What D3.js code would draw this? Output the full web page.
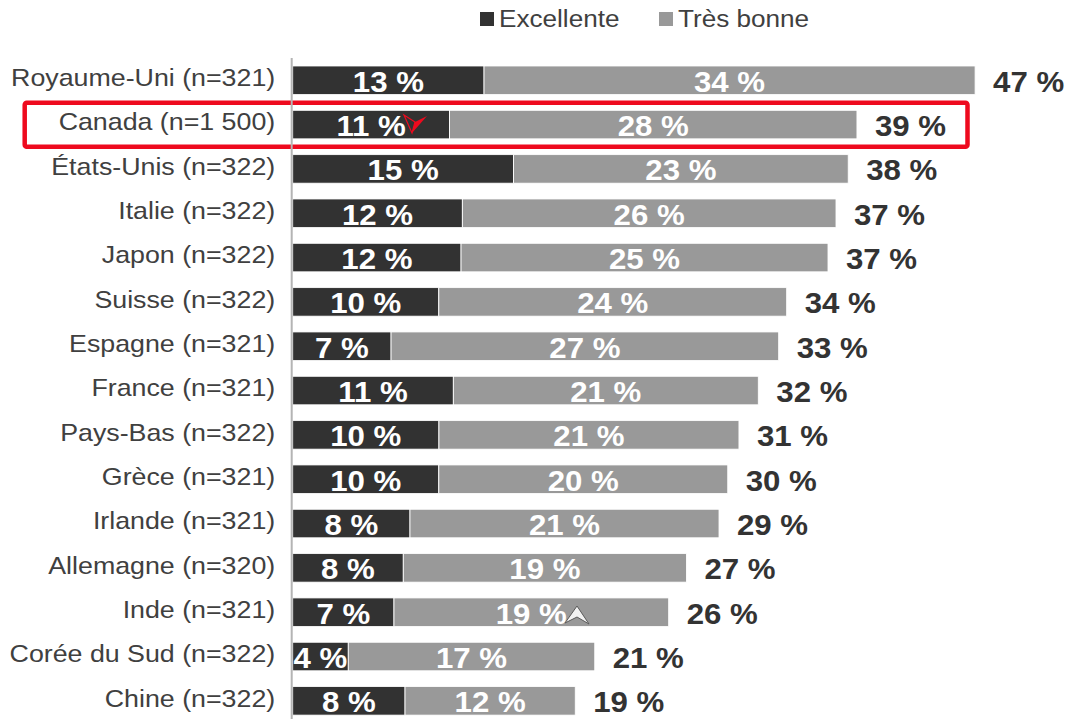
<!DOCTYPE html>
<html>
<head>
<meta charset="utf-8">
<script src="https://cdn.jsdelivr.net/npm/d3@7"></script>
<style>
  body { margin: 0; background: white; }
  text { font-family: "Liberation Sans", Arial, sans-serif; }
</style>
</head>
<body>
<div id="chart"></div>
<script>
// data (bar lengths give the decimals, labels are rounded)
var categories = ["Royaume-Uni (n=321)", "Canada (n=1 500)", "États-Unis (n=322)", "Italie (n=322)",
    "Japon (n=322)", "Suisse (n=322)", "Espagne (n=321)", "France (n=321)", "Pays-Bas (n=322)",
    "Grèce (n=321)", "Irlande (n=321)", "Allemagne (n=320)", "Inde (n=321)", "Corée du Sud (n=322)",
    "Chine (n=322)"];
var excellente = [13.15, 10.78, 15.18, 11.66, 11.57, 10.04, 6.76, 11.04, 10.05, 10.04, 8.06, 7.6, 6.96, 3.82, 7.72];
var tresBonne = [33.75, 28.0, 23.0, 25.68, 25.22, 23.91, 26.64, 20.96, 20.62, 19.86, 21.24, 19.46, 18.88, 16.94, 11.7];
var seriesNames = ["Excellente", "Très bonne"];
var highlighted = "Canada (n=1 500)";

var colors = { "Excellente": "#323232", "Très bonne": "#999999" };

// the text in the picture is a bit wider than Arial, so stretch the drawing a little
var SX = 1.08;
var W = 1069, H = 719;

var data = categories.map(function(c, i) {
    return { cat: c, "Excellente": excellente[i], "Très bonne": tresBonne[i] };
});

var svg = d3.select("#chart").append("svg")
    .attr("width", W)
    .attr("height", H);

var g = svg.append("g").attr("transform", "scale(" + SX + ",1)");

var x0 = 292.7;
var xS = d3.scaleLinear()
    .domain([0, 50])
    .range([x0 / SX, (x0 + 14.55 * 50) / SX]);

var yS = d3.scaleBand()
    .domain(categories)
    .range([66, 715.1])
    .paddingInner(0.357)
    .paddingOuter(0);

var stack = d3.stack().keys(seriesNames)(data);

// red frame around Canada
var yc = yS(highlighted);
svg.append("rect")
    .attr("x", 24.7)
    .attr("y", yc - 7.5)
    .attr("width", 967.5 - 24.7)
    .attr("height", 43.8)
    .attr("rx", 2)
    .attr("fill", "none")
    .attr("stroke", "#ee0a1e")
    .attr("stroke-width", 4.5);

// axis line
svg.append("line")
    .attr("x1", xS(0) * SX - 1)
    .attr("x2", xS(0) * SX - 1)
    .attr("y1", 58)
    .attr("y2", H)
    .attr("stroke", "#b4b4b4")
    .attr("stroke-width", 2);

// bars
var layers = g.selectAll("g.layer")
    .data(stack)
    .enter()
    .append("g")
    .attr("class", "layer")
    .attr("fill", d => colors[d.key]);

layers.selectAll("rect")
    .data(d => d)
    .enter()
    .append("rect")
    .attr("x", d => xS(d[0]))
    .attr("y", d => yS(d.data.cat))
    .attr("width", d => xS(d[1]) - xS(d[0]))
    .attr("height", yS.bandwidth())
    .attr("stroke", "#ffffff")
    .attr("stroke-width", 0.8);

// values inside the bars
layers.selectAll("text")
    .data(d => d)
    .enter()
    .append("text")
    .attr("x", d => (xS(d[0]) + xS(d[1])) / 2)
    .attr("y", d => yS(d.data.cat) + yS.bandwidth() / 2 + 11.4)
    .attr("text-anchor", "middle")
    .attr("fill", "white")
    .attr("font-weight", "bold")
    .attr("font-size", "28.9px")
    .text(d => Math.round(d[1] - d[0]) + " %");

// totals
g.append("g")
    .selectAll("text")
    .data(data)
    .enter()
    .append("text")
    .attr("x", d => xS(d["Excellente"] + d["Très bonne"]) + 18 / SX)
    .attr("y", d => yS(d.cat) + yS.bandwidth() / 2 + 11.4)
    .attr("fill", "#333333")
    .attr("font-weight", "bold")
    .attr("font-size", "28.9px")
    .text(d => Math.round(d["Excellente"] + d["Très bonne"]) + " %");

// category labels
g.append("g")
    .selectAll("text")
    .data(categories)
    .enter()
    .append("text")
    .attr("x", xS(0) - 17.5 / SX)
    .attr("y", d => yS(d) + yS.bandwidth() / 2 + 5.8)
    .attr("text-anchor", "end")
    .attr("fill", "#404040")
    .attr("font-size", "24.8px")
    .text(d => d);

// legend
var legendX = [480, 659];
var lg = g.append("g");
seriesNames.forEach(function(s, i) {
    lg.append("rect")
        .attr("x", legendX[i] / SX)
        .attr("y", 12)
        .attr("width", 14 / SX)
        .attr("height", 14)
        .attr("fill", colors[s]);
    lg.append("text")
        .attr("x", (legendX[i] + 19) / SX)
        .attr("y", 26.7)
        .attr("fill", "#404040")
        .attr("font-size", "24.2px")
        .text(s);
});

// little pointer marks that sit on the picture
svg.append("path")
    .attr("d", "M404,115 L415,122 L412,133 Z")
    .attr("fill", "none")
    .attr("stroke", "#ee0a1e")
    .attr("stroke-width", 1.2);
svg.append("path")
    .attr("d", "M415,122 L427,116 L412,133 Z")
    .attr("fill", "#ee0a1e");
svg.append("path")
    .attr("d", "M577,606 L589,624 L577,617 L565,623 Z")
    .attr("fill", "#f2f2f2")
    .attr("stroke", "#5a5a5a")
    .attr("stroke-width", 1);
</script>
</body>
</html>
